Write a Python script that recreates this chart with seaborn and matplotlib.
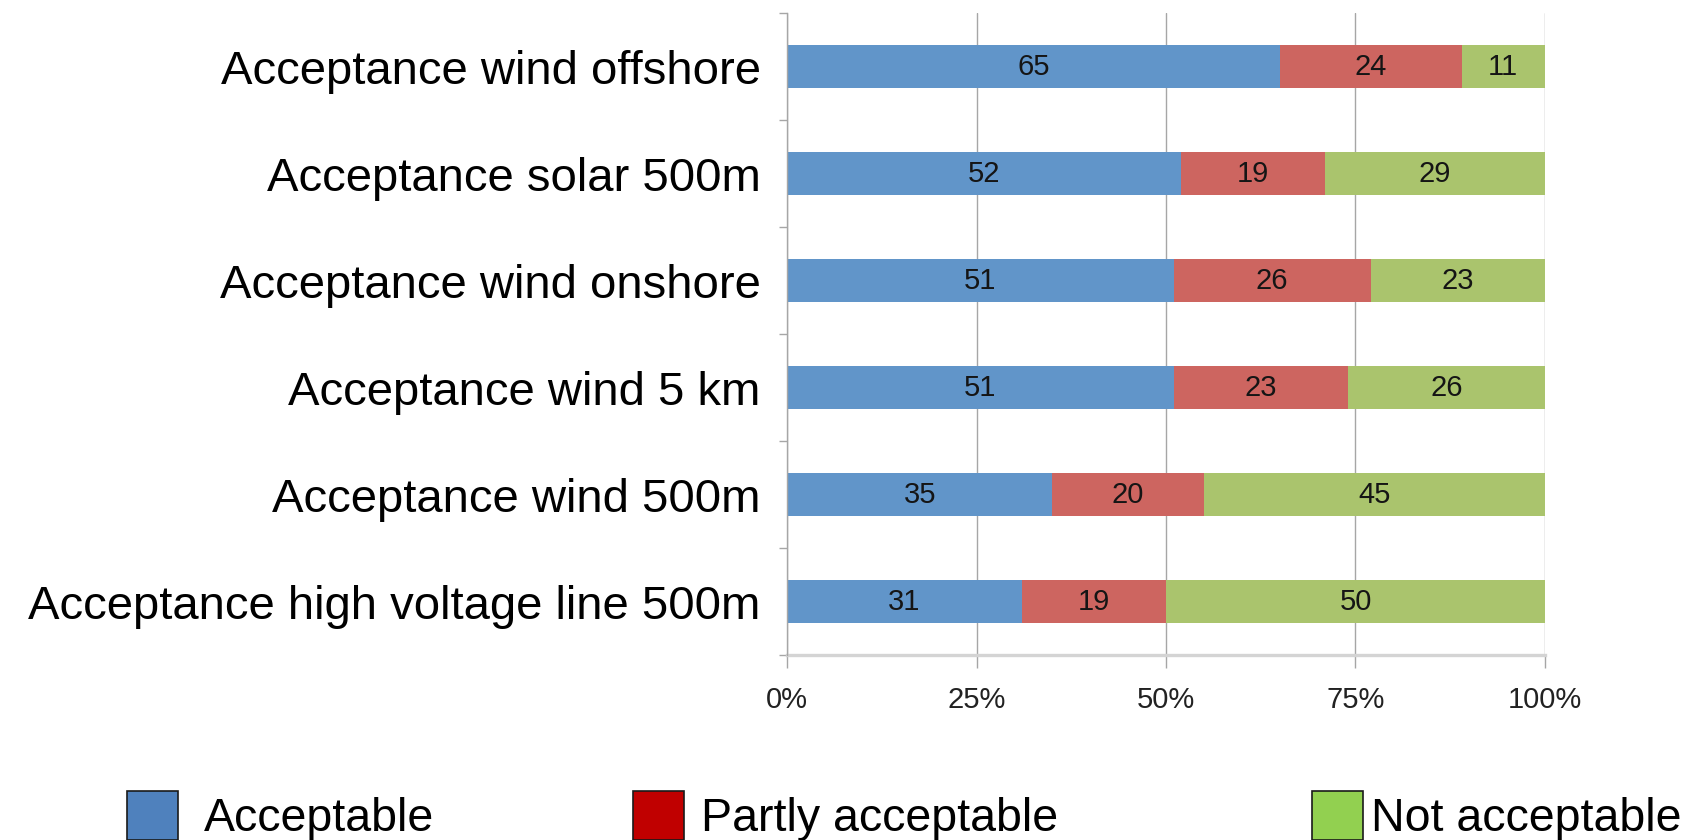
import numpy as np
import pandas as pd
import matplotlib
matplotlib.use("Agg")
import matplotlib.pyplot as plt
from matplotlib.patches import Patch
from matplotlib.ticker import FixedLocator
import seaborn as sns

categories = [
    "Acceptance wind offshore",
    "Acceptance solar 500m",
    "Acceptance wind onshore",
    "Acceptance wind 5 km",
    "Acceptance wind 500m",
    "Acceptance high voltage line 500m",
]
acceptable = [65, 52, 51, 51, 35, 31]
partly = [24, 19, 26, 23, 20, 19]
not_acceptable = [11, 29, 23, 26, 45, 50]
series_names = ["Acceptable", "Partly acceptable", "Not acceptable"]
x_ticks = [0, 25, 50, 75, 100]
x_tick_labels = ["0%", "25%", "50%", "75%", "100%"]

bar_colors = ["#6195C9", "#CD6560", "#AAC46D"]
legend_colors = ["#4F81BD", "#C00000", "#92D050"]

sns.set_theme(style="white")
plt.rcParams["font.family"] = ["Liberation Sans", "DejaVu Sans"]
plt.rcParams["text.color"] = "black"

df = pd.DataFrame({
    "category": categories,
    "Acceptable": acceptable,
    "Partly acceptable": partly,
    "Not acceptable": not_acceptable,
})
df["cum1"] = df["Acceptable"]
df["cum2"] = df["Acceptable"] + df["Partly acceptable"]
df["cum3"] = df["cum2"] + df["Not acceptable"]

fig = plt.figure(figsize=(16.97, 8.40), dpi=100)
ax = fig.add_axes([0.4638, 0.2202, 0.9104 - 0.4638, 0.9845 - 0.2202])

for col, color in zip(["cum3", "cum2", "cum1"], bar_colors[::-1]):
    sns.barplot(data=df, y="category", x=col, order=categories, color=color,
                orient="h", width=0.4, ax=ax, saturation=1, linewidth=0, zorder=3)

# segment labels
seg_vals = [df["Acceptable"], df["Partly acceptable"], df["Not acceptable"]]
starts = [np.zeros(len(df)), df["cum1"].values, df["cum2"].values]
for vals, st in zip(seg_vals, starts):
    for i, (v, s) in enumerate(zip(vals.values, st)):
        ax.text(s + v / 2, i, f"{v}", ha="center", va="center",
                fontsize=21, color="#151515", zorder=5)

ax.set_xlim(0, 100)
ax.set_ylim(len(categories) - 0.5, -0.5)
ax.set_xlabel("")
ax.set_ylabel("")

ax.xaxis.set_major_locator(FixedLocator(x_ticks))
ax.set_xticklabels(x_tick_labels)
ax.grid(axis="x", color="#A6A6A6", linewidth=1.0, zorder=0)
ax.grid(axis="y", visible=False)
ax.set_axisbelow(True)

for s in ["top", "right"]:
    ax.spines[s].set_visible(False)
ax.spines["left"].set_color("#A6A6A6")
ax.spines["left"].set_linewidth(1.0)
ax.spines["bottom"].set_color("#D4D4D4")
ax.spines["bottom"].set_linewidth(2.4)
ax.spines["left"].set_zorder(4)

ax.tick_params(axis="x", which="major", bottom=True, length=9, width=1.0,
               color="#A6A6A6", labelsize=21, pad=13, labelcolor="#222222")
ax.tick_params(axis="y", which="major", left=False, length=0, labelsize=34,
               pad=19, labelcolor="black")
ax.yaxis.set_minor_locator(FixedLocator(np.arange(-0.5, len(categories), 1.0)))
ax.tick_params(axis="y", which="minor", left=True, length=6, width=1.0,
               color="#A6A6A6")

# legends (three separate entries spread across the bottom)
anchors_x = [0.0748, 0.373, 0.773]
text_pads = [0.55, 0.36, 0.17]
for name, color, xa, tp in zip(series_names, legend_colors, anchors_x, text_pads):
    h = Patch(facecolor=color, edgecolor="#1a1a1a", linewidth=1.2)
    fig.legend(handles=[h], labels=[name], loc="center left",
               bbox_to_anchor=(xa, 0.0286), frameon=False, borderpad=0,
               borderaxespad=0, handlelength=1.1, handleheight=1.25,
               handletextpad=tp, fontsize=33.5, labelcolor="black")

fig.savefig("out.png", dpi=100)
